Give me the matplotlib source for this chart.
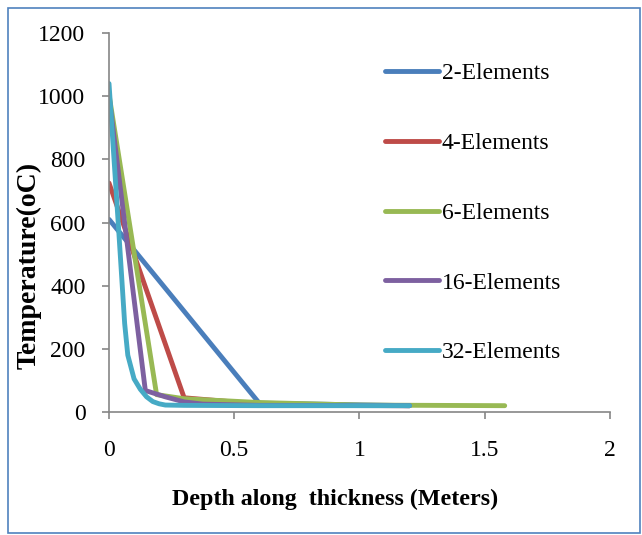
import matplotlib
matplotlib.use("Agg")
import matplotlib.pyplot as plt
from matplotlib.patches import Rectangle

plt.rcParams['font.family'] = ['Liberation Serif', 'DejaVu Serif']

labels = ["2-Elements", "4-Elements", "6-Elements", "16-Elements", "32-Elements"]
colors = ["#4A7EBB", "#BE4B48", "#98B954", "#7D60A0", "#46AAC5"]

x2 = [0, 0.6, 1.2]
y2 = [610, 28, 20]

x4 = [0, 0.3, 0.6, 0.9, 1.2]
y4 = [725, 45, 25, 21, 20]

x6 = [0, 0.19, 0.3, 0.6, 1.0, 1.58]
y6 = [1005, 55, 42, 30, 22, 20]

x16 = [0, 0.145, 0.225, 0.3, 0.375, 0.6, 1.2]
y16 = [1000, 68, 48, 32, 25, 21, 20]

x32 = [0, 0.0375, 0.0625, 0.075, 0.1, 0.125, 0.15, 0.175, 0.2, 0.225, 0.3, 0.6, 1.2]
y32 = [1040, 590, 280, 180, 105, 72, 48, 33, 26, 22, 21, 20, 20]

xs = [x2, x4, x6, x16, x32]
ys = [y2, y4, y6, y16, y32]

x_ticks = [0, 0.5, 1, 1.5, 2]
x_ticklabels = ["0", "0.5", "1", "1.5", "2"]
y_ticks = [0, 200, 400, 600, 800, 1000, 1200]

fig = plt.figure(figsize=(6.42, 5.35), dpi=100)
ax = fig.add_axes([0.1698, 0.2299, 0.7802, 0.7084])

for x, y, c, l in zip(xs, ys, colors, labels):
    ax.plot(x, y, color=c, lw=3.5, label=l, solid_capstyle='round', solid_joinstyle='round')

ax.set_xlim(0, 2)
ax.set_ylim(0, 1200)
ax.set_xticks(x_ticks)
ax.set_xticklabels(x_ticklabels)
ax.set_yticks(y_ticks)

for s in ['top', 'right']:
    ax.spines[s].set_visible(False)
for s in ['left', 'bottom']:
    ax.spines[s].set_color('#868686')
    ax.spines[s].set_linewidth(1.2)
    ax.spines[s].set_clip_on(False)

ax.tick_params(axis='both', direction='out', length=5, width=1.2, color='#868686',
               labelsize=17, labelcolor='black')
ax.tick_params(axis='y', pad=12)
ax.tick_params(axis='x', pad=15)

ax.set_xlabel("Depth along  thickness (Meters)", fontsize=17.3, fontweight='bold')
ax.xaxis.set_label_coords(0.451, -0.203)
ax.set_ylabel("Temperature(oC)", fontsize=20, fontweight='bold')
ax.yaxis.set_label_coords(-0.135, 0.388)

leg = ax.legend(loc='upper left', bbox_to_anchor=(0.585, 0.9), bbox_transform=fig.transFigure,
                frameon=False, fontsize=17, handlelength=2.3, handletextpad=0.1,
                labelspacing=2.04, borderaxespad=0)

fig.patches.append(Rectangle((8/642, 2/535), 632/642, 525/535, transform=fig.transFigure,
                             fill=False, edgecolor='#4F81BD', lw=1.2))

fig.savefig("out.png", dpi=100)
